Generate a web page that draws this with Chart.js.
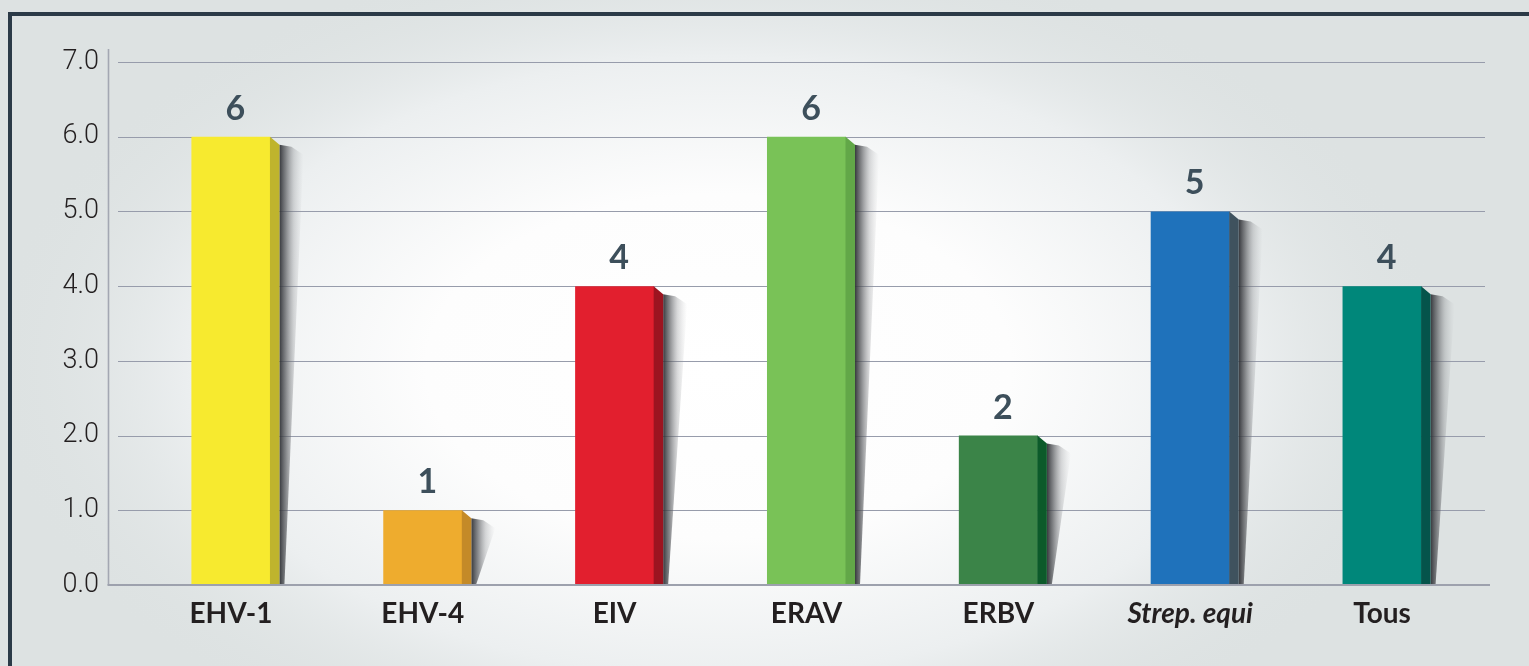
<!DOCTYPE html>
<html>
<head>
<meta charset="utf-8">
<script src="https://cdn.jsdelivr.net/npm/chart.js@4.4.1/dist/chart.umd.min.js"></script>
<style>
  html, body { margin: 0; padding: 0; background: #dde2e2; }
  #wrap { width: 1529px; height: 666px; position: relative; }
</style>
</head>
<body>
<div id="wrap"><canvas id="c" width="1529" height="666"></canvas></div>
<script>
const categories = ['EHV-1', 'EHV-4', 'EIV', 'ERAV', 'ERBV', 'Strep. equi', 'Tous'];
const values = [6, 1, 4, 6, 2, 5, 4];
const frontColors = ['#f7ea2f', '#eeac2e', '#e21f2e', '#79c257', '#3b8448', '#1f72bb', '#00877a'];
const sideColors = ['#bfb42d', '#c48a28', '#9c1420', '#62a748', '#0c5a2a', '#3f525e', '#05544b'];
const yTicks = [0, 1, 2, 3, 4, 5, 6, 7];
const italicCategories = ['Strep. equi'];

const backgroundPlugin = {
  id: 'bg',
  beforeDraw(chart) {
    const ctx = chart.ctx;
    const W = chart.width, H = chart.height;
    ctx.save();
    ctx.fillStyle = '#dde2e2';
    ctx.fillRect(0, 0, W, H);
    ctx.translate(W * 0.47, H * 0.55);
    ctx.scale(1.7, 1);
    const g = ctx.createRadialGradient(0, 0, 0, 0, 0, 430);
    g.addColorStop(0, '#ffffff');
    g.addColorStop(0.4, '#fdfdfd');
    g.addColorStop(0.72, '#eceff0');
    g.addColorStop(1, 'rgba(221,226,226,0)');
    ctx.fillStyle = g;
    ctx.beginPath();
    ctx.arc(0, 0, 430, 0, Math.PI * 2);
    ctx.fill();
    ctx.restore();
    // frame
    ctx.save();
    ctx.fillStyle = '#2b3a47';
    ctx.fillRect(8, 12, W - 8, 4);
    ctx.fillRect(8, 12, 4, H - 12);
    ctx.restore();
  }
};

const gridPlugin = {
  id: 'customGrid',
  beforeDatasetsDraw(chart) {
    const ctx = chart.ctx;
    const area = chart.chartArea;
    const ys = chart.scales.y;
    ctx.save();
    ctx.strokeStyle = '#979cab';
    ctx.lineWidth = 1.2;
    yTicks.forEach(v => {
      if (v === 0) return;
      const y = Math.round(ys.getPixelForValue(v)) + 0.5;
      ctx.beginPath();
      ctx.moveTo(area.left - 17, y);
      ctx.lineTo(area.right + 7, y);
      ctx.stroke();
    });
    // y axis line
    ctx.strokeStyle = '#a3a7b2';
    ctx.lineWidth = 1.6;
    ctx.beginPath();
    ctx.moveTo(area.left - 26.5, area.top - 13);
    ctx.lineTo(area.left - 26.5, area.bottom);
    ctx.stroke();
    ctx.restore();
  },
  afterDatasetsDraw(chart) {
    const ctx = chart.ctx;
    const area = chart.chartArea;
    const meta = chart.getDatasetMeta(0);
    ctx.save();
    meta.data.forEach((bar, i) => {
      const right = bar.x + bar.width / 2;
      const top = bar.y;
      const base = bar.base;
      const depth = 9;
      // shadow
      const sx = right + depth;
      const sw = 24;
      const g = ctx.createLinearGradient(sx, 0, sx + sw, 0);
      g.addColorStop(0, 'rgba(45,47,52,0.95)');
      g.addColorStop(0.25, 'rgba(80,82,86,0.7)');
      g.addColorStop(0.6, 'rgba(130,132,136,0.3)');
      g.addColorStop(1, 'rgba(170,172,175,0)');
      ctx.fillStyle = g;
      ctx.beginPath();
      ctx.moveTo(sx, top + 8);
      ctx.lineTo(sx + sw * 0.5, top + 10);
      ctx.lineTo(sx + sw, top + 18);
      ctx.lineTo(sx + 5, base - 1);
      ctx.lineTo(sx, base);
      ctx.closePath();
      ctx.fill();
      // side face
      ctx.fillStyle = sideColors[i];
      ctx.beginPath();
      ctx.moveTo(right - 0.5, top);
      ctx.lineTo(right + depth, top + 8);
      ctx.lineTo(right + depth, base);
      ctx.lineTo(right - 0.5, base);
      ctx.closePath();
      ctx.fill();
      // value label
      ctx.fillStyle = '#3d4f5b';
      ctx.font = 'bold 34px Lato, "Open Sans", sans-serif';
      ctx.textAlign = 'center';
      ctx.textBaseline = 'alphabetic';
      ctx.fillText(String(values[i]), bar.x + depth / 2, top - 17);
    });
    // x axis line
    ctx.strokeStyle = '#9da1ad';
    ctx.lineWidth = 2.2;
    ctx.beginPath();
    ctx.moveTo(area.left - 27.5, area.bottom);
    ctx.lineTo(area.right + 12, area.bottom);
    ctx.stroke();
    ctx.restore();
  }
};

new Chart(document.getElementById('c'), {
  type: 'bar',
  data: {
    labels: categories,
    datasets: [{
      data: values,
      backgroundColor: frontColors,
      borderWidth: 0,
      categoryPercentage: 1,
      barPercentage: 0.412
    }]
  },
  options: {
    responsive: false,
    animation: false,
    devicePixelRatio: 1,
    layout: { padding: { top: 62, right: 51, left: 0, bottom: 0 } },
    plugins: { legend: { display: false }, tooltip: { enabled: false } },
    scales: {
      x: {
        grid: { display: false, drawTicks: false },
        border: { display: false },
        afterFit(scale) { scale.height = 81; },
        ticks: {
          padding: 12,
          color: '#231f20',
          autoSkip: false,
          maxRotation: 0,
          font: (ctx) => ({
            family: 'Lato, "Open Sans", sans-serif',
            size: 28,
            weight: 'bold',
            style: italicCategories.includes(categories[ctx.index]) ? 'italic' : 'normal'
          })
        }
      },
      y: {
        min: yTicks[0],
        max: yTicks[yTicks.length - 1],
        grid: { display: false, drawTicks: false },
        border: { display: false },
        afterFit(scale) { scale.width = 135; },
        afterBuildTicks(scale) { scale.ticks = yTicks.map(v => ({ value: v })); },
        ticks: {
          padding: 36,
          color: '#231f20',
          font: { family: 'Roboto, sans-serif', size: 27, weight: 300 },
          callback: (v) => Number(v).toFixed(1)
        }
      }
    }
  },
  plugins: [backgroundPlugin, gridPlugin]
});
</script>
</body>
</html>
